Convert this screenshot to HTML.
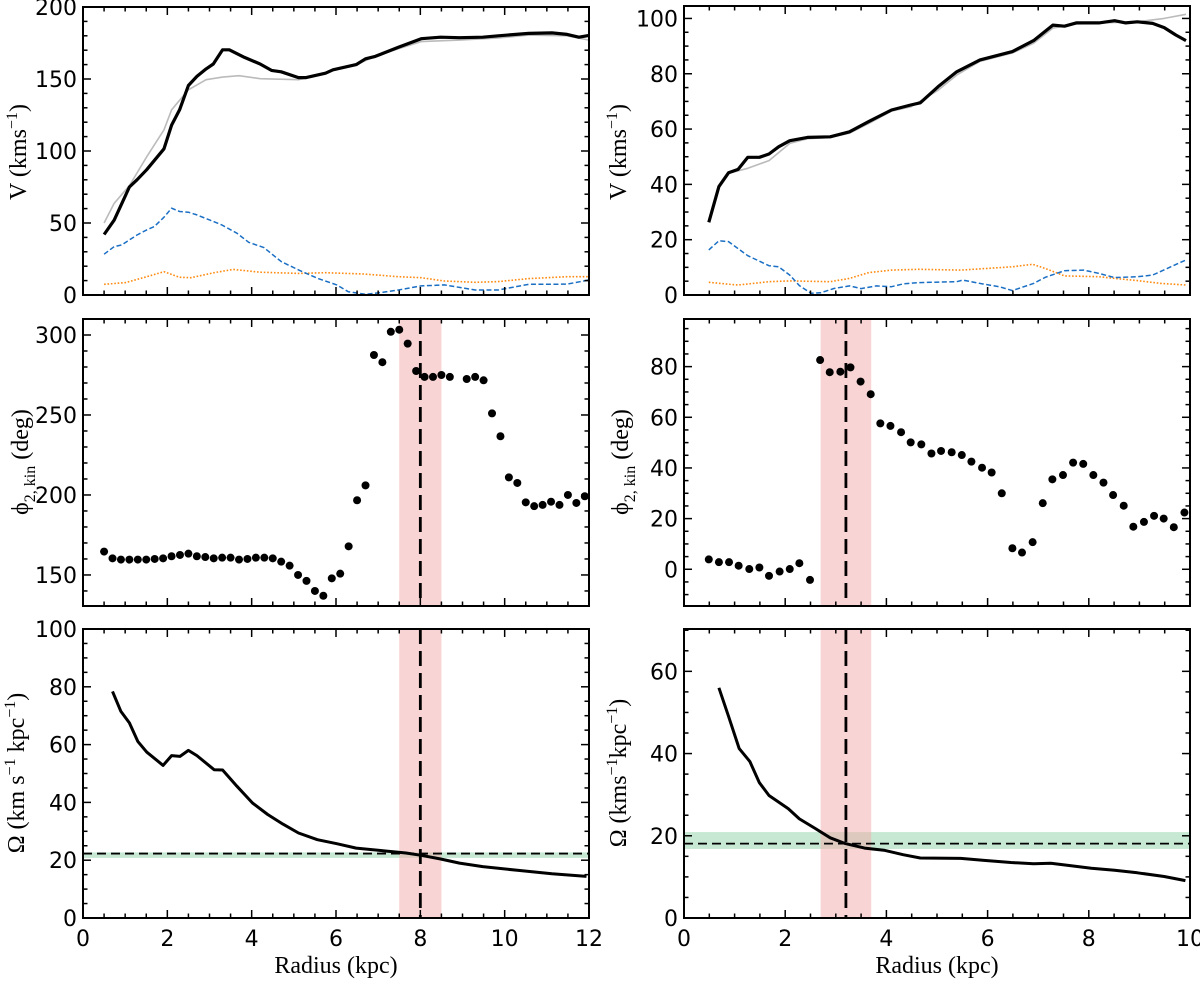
<!DOCTYPE html>
<html><head><meta charset="utf-8">
<style>
html,body{margin:0;padding:0;background:#fff;}
svg{display:block;}
.tk{font-family:"DejaVu Sans","Liberation Sans",sans-serif;font-size:22px;fill:#000;}
.lb{font-family:"Liberation Serif",serif;font-size:24px;fill:#000;}
</style></head>
<body>
<svg id="fig" width="1200" height="984" viewBox="0 0 1200 984" xmlns="http://www.w3.org/2000/svg"></svg>
<script>
// ---- Left galaxy, rotation curves ----
const tlBlackR=[0.50,0.74,1.10,1.28,1.51,1.92,2.10,2.29,2.50,2.70,2.92,3.09,3.31,3.47,3.83,4.20,4.47,4.70,5.11,5.29,5.75,5.93,6.48,6.70,6.93,7.48,8.02,8.48,8.93,9.48,9.85,10.57,11.12,11.48,11.76,12.0];
const tlBlackV=[42,52,75,80,87,101.5,118,128.6,145.5,151.8,157,160.4,170.3,170.3,165,160.4,156,155,151,151,154,156.4,160,164,165.7,172,178,179,178.7,179,180,181.7,182,181,179,180.3];
const tlGrayR=[0.5,0.74,1.10,1.51,1.92,2.10,2.50,2.92,3.31,3.70,4.20,5.11,5.75,5.93,6.48,6.93,7.48,8.02,8.93,9.85,10.57,11.48,12.0];
const tlGrayV=[50,63.7,76,96,114.7,128.6,142.5,149.5,151.3,152.3,150.2,149.5,154,156.4,160,165.7,171,176,177,178.5,180.5,180,177];
const tlBlueR=[0.50,0.74,0.92,1.28,1.51,1.69,1.92,2.10,2.29,2.50,2.70,3.01,3.29,3.65,3.93,4.29,4.70,5.11,5.56,6.02,6.29,6.70,7.11,7.48,8.02,8.57,9.30,9.85,10.57,11.12,11.48,12.0];
const tlBlueV=[28.3,33.6,34.8,41.7,45.2,47.5,54,60.3,58,57.5,55.6,52,48.7,42.9,36.6,32.9,23.2,17.4,11.6,7,2.3,0.5,1.9,3.5,6.3,7,3.5,3.5,7.4,7.4,7.6,10.4];
const tlOrR=[0.5,1.01,1.51,1.92,2.29,2.56,3.11,3.56,4.20,5.11,5.75,6.66,7.48,8.02,8.57,9.30,9.85,10.57,11.48,12.0];
const tlOrV=[7.4,8.6,12.7,16.2,12.3,12,15.5,17.8,15.8,15,15.5,14.6,12.7,12,9.7,8.8,9.3,11.4,12.7,12.7];
// ---- Right galaxy, rotation curves ----
const trBlackR=[0.49,0.69,0.88,1.07,1.26,1.49,1.68,1.87,2.09,2.44,2.89,3.27,3.65,4.10,4.48,4.67,5.02,5.39,5.85,6.49,6.91,7.29,7.52,7.75,8.20,8.51,8.73,8.96,9.26,9.49,9.72,9.92];
const trBlackV=[26.3,39.2,44.2,45.4,49.8,49.8,51,53.6,55.8,57,57.2,59,62.7,66.9,68.7,69.5,75.3,80.7,85,88,92,97.6,97.2,98.4,98.4,99.2,98.4,98.8,98.2,96.7,94,92];
const trGrayR=[0.49,0.69,0.88,1.26,1.68,2.09,2.44,2.89,3.27,3.65,4.10,4.48,5.02,5.39,5.85,6.49,6.91,7.29,7.75,8.20,8.96,9.49,9.92];
const trGrayV=[27,39,44,45.8,48.6,54.8,56.5,57,58.5,62,66.5,68,74,79.5,84.5,87.5,91,96.5,98,98.4,98.8,100,101.5];
const trBlueR=[0.49,0.69,0.88,1.26,1.68,1.87,2.09,2.28,2.51,2.70,2.97,3.27,3.50,3.80,4.10,4.33,4.64,5.39,5.51,5.93,6.23,6.49,6.91,7.14,7.52,7.90,8.20,8.51,8.96,9.26,9.92];
const trBlueV=[16.3,19.6,19.3,14.2,10.6,10.2,7.2,3.4,0.6,0.8,2.4,3.3,2.3,3.3,3,4,4.5,4.8,5.4,3.9,3,1.6,4.2,6.4,8.8,9,7.8,6.3,6.6,7.2,12.7];
const trOrR=[0.49,0.88,1.07,1.68,2.09,2.89,3.27,3.65,4.10,4.64,5.47,6.49,6.89,7.14,7.52,8.20,8.51,8.96,9.42,9.92];
const trOrV=[4.6,3.9,3.6,4.8,5.1,4.8,6,8.1,9,9.3,9,10.2,11.1,9.6,6.9,6.6,6,5.2,4.2,3.6];
// ---- Phase angles ----
const mlR=[0.5,0.7,0.9,1.1,1.3,1.5,1.7,1.9,2.1,2.3,2.5,2.7,2.9,3.1,3.3,3.5,3.7,3.9,4.1,4.3,4.5,4.7,4.9,5.1,5.3,5.5,5.7,5.9,6.1,6.3,6.5,6.7,6.9,7.1,7.3,7.5,7.7,7.9,8.1,8.3,8.5,8.7,9.1,9.3,9.5,9.7,9.9,10.1,10.3,10.5,10.7,10.9,11.1,11.3,11.5,11.7,11.9];
const mlPhi=[164.6,160.4,159.6,159.6,159.6,159.6,160,160.4,161.7,162.5,163.3,161.7,161.2,160.4,160.8,160.8,159.6,160,160.8,160.8,160.4,158.3,155.8,150,146.3,140,137,147.9,150.8,167.9,196.7,206,287.5,283,302,303.3,294.6,277.5,273.8,273.8,275,273.8,272.5,273.8,271.7,251,236.7,211,207.5,195.4,193,193.8,195.8,193.8,200,195,199.2];
const mrR=[0.49,0.69,0.89,1.08,1.29,1.49,1.68,1.89,2.09,2.28,2.49,2.69,2.88,3.09,3.29,3.49,3.69,3.88,4.08,4.29,4.48,4.69,4.89,5.08,5.29,5.49,5.68,5.89,6.08,6.28,6.49,6.68,6.89,7.09,7.28,7.49,7.69,7.89,8.09,8.29,8.48,8.69,8.88,9.09,9.29,9.48,9.68,9.89];
const mrPhi=[3.9,2.8,2.8,1.4,0.1,0.7,-2.6,-0.9,0.1,2.4,-4.2,82.6,77.8,78,79.7,74.1,69.1,57.6,56.6,54.1,50.1,49.3,45.7,46.7,46.2,45.1,42.5,40.1,38.2,30,8.3,6.6,10.7,26.1,35.5,37.2,42.1,41.6,37.2,34.2,29.3,25.1,16.8,18.7,21.1,20,16.6,22.4];
// ---- Pattern speed ----
const blR=[0.70,0.90,1.10,1.30,1.51,1.90,2.10,2.30,2.50,2.70,3.11,3.31,3.65,4.02,4.38,4.74,5.11,5.56,6.02,6.48,7.11,7.66,8.02,8.48,8.93,9.48,10.30,11.12,11.94];
const blOm=[78.4,71.5,67.5,61.1,57.4,52.8,56.2,55.9,58,56.2,51.3,51.2,45.6,39.8,35.8,32.5,29.4,27.1,25.7,24.2,23.3,22.5,21.7,20.4,19,17.8,16.5,15.3,14.4];
const brR=[0.69,0.88,1.09,1.30,1.49,1.68,2.06,2.28,2.59,2.89,3.19,3.57,3.95,4.33,4.67,5.47,5.93,6.46,6.91,7.25,7.59,8.05,8.51,8.96,9.49,9.91];
const brOm=[56,49.1,41.2,38.1,32.9,29.8,26.6,24.1,21.8,19.5,18.1,17,16.5,15.4,14.6,14.5,14,13.5,13.2,13.3,12.8,12.1,11.6,11,10.1,9.1];
const leftRcr=[7.5,8.0,8.5];
const rightRcr=[2.7,3.2,3.7];
const leftOmp=[20.8,22.3,22.7];
const rightOmp=[16.8,18.1,20.9];

const NS='http://www.w3.org/2000/svg';
const svg=document.getElementById('fig');
function el(tag,attrs,parent){const e=document.createElementNS(NS,tag);for(const k in attrs)e.setAttribute(k,attrs[k]);(parent||svg).appendChild(e);return e;}

function panel(name,px0,px1,py0,py1,xmin,xmax,ymin,ymax,xmaj,xmin_,ymaj,ymin_,showX){
  const g=el('g',{});
  
  
  const sx=v=>px0+(v-xmin)/(xmax-xmin)*(px1-px0);
  const sy=v=>py1-(v-ymin)/(ymax-ymin)*(py1-py0);
  return {g,sx,sy,px0,px1,py0,py1,xmin,xmax,ymin,ymax,xmaj,xmin_,ymaj,ymin_,showX};
}
function axes(p){
  const f=el('rect',{x:p.px0,y:p.py0,width:p.px1-p.px0,height:p.py1-p.py0,fill:'none',stroke:'#000','stroke-width':2},p.g);
  
  
  const eps=1e-6;
  for(let v=Math.ceil(p.xmin/p.xmin_)*p.xmin_;v<=p.xmax+eps;v+=p.xmin_){
    const maj=Math.abs(v/p.xmaj-Math.round(v/p.xmaj))<1e-6;const L=maj?8:4.5;const x=p.sx(v);
    el('line',{x1:x,x2:x,y1:p.py1,y2:p.py1-L,stroke:'#000','stroke-width':1.5},p.g);
    el('line',{x1:x,x2:x,y1:p.py0,y2:p.py0+L,stroke:'#000','stroke-width':1.5},p.g);
    if(maj&&p.showX){const t=el('text',{x:x,y:p.py1+28,'text-anchor':'middle',class:'tk'},p.g);t.textContent=Math.round(v);
      
      }
  }
  for(let v=Math.ceil((p.ymin-eps)/p.ymin_)*p.ymin_;v<=p.ymax+eps;v+=p.ymin_){
    const maj=Math.abs(v/p.ymaj-Math.round(v/p.ymaj))<1e-6;const L=maj?8:4.5;const y=p.sy(v);
    el('line',{x1:p.px0,x2:p.px0+L,y1:y,y2:y,stroke:'#000','stroke-width':1.5},p.g);
    el('line',{x1:p.px1,x2:p.px1-L,y1:y,y2:y,stroke:'#000','stroke-width':1.5},p.g);
    if(maj){const t=el('text',{x:p.px0-6,y:y+8,'text-anchor':'end',class:'tk'},p.g);t.textContent=Math.round(v);
      
      }
  }
}
function line(p,R,V,attrs,name){
  const d=R.map((r,i)=>(i?'L':'M')+p.sx(r).toFixed(1)+' '+p.sy(V[i]).toFixed(1)).join(' ');
  const e=el('path',Object.assign({d:d,fill:'none','stroke-linejoin':'round'},attrs),p.g);
  
  
}
function dots(p,R,V,name){
  R.forEach((r,i)=>{const c=el('circle',{cx:p.sx(r),cy:p.sy(V[i]),r:4,fill:'#000'},p.g);
    
    });
}
function vband(p,b){
  const r=el('rect',{x:p.sx(b[0]),y:p.py0,width:p.sx(b[2])-p.sx(b[0]),height:p.py1-p.py0,fill:'#f4aaaa','fill-opacity':0.5},p.g);
  
  
  const l=el('line',{x1:p.sx(b[1]),x2:p.sx(b[1]),y1:p.py0,y2:p.py1,stroke:'#000','stroke-width':2.8,'stroke-dasharray':'15 7'},p.g);
  
  
}
function hband(p,b){
  const r=el('rect',{x:p.px0,y:p.sy(b[2]),width:p.px1-p.px0,height:p.sy(b[0])-p.sy(b[2]),fill:'#8fd3a8','fill-opacity':0.5},p.g);
  
  
}
function hline(p,b){
  const l=el('line',{x1:p.px0,x2:p.px1,y1:p.sy(b[1]),y2:p.sy(b[1]),stroke:'#000','stroke-width':1.8,'stroke-dasharray':'9 5'},p.g);
  
  
}
function ylabel(x,y,html,name){
  const t=el('text',{x:0,y:0,transform:`translate(${x},${y}) rotate(-90)`,'text-anchor':'middle',class:'lb'});
  t.innerHTML=html;
  
  
}
const blackS={stroke:'#000','stroke-width':3.2};
const grayS={stroke:'#bbb','stroke-width':1.6};
const blueS={stroke:'#1a6fc4','stroke-width':1.5,'stroke-dasharray':'5 2.5'};
const orS={stroke:'#ff8a10','stroke-width':1.6,'stroke-dasharray':'1.6 1.8'};

const LX0=83,LX1=589,RX0=684,RX1=1190;
let p=panel('rotation-curve-left',LX0,LX1,7,295,0,12,0,200,2,0.5,50,10,false);
line(p,tlGrayR,tlGrayV,grayS,'observed-curve-gray');
line(p,tlOrR,tlOrV,orS,'dispersion-orange');
line(p,tlBlueR,tlBlueV,blueS,'radial-velocity-blue');
line(p,tlBlackR,tlBlackV,blackS,'rotation-curve-black');
axes(p);
p=panel('rotation-curve-right',RX0,RX1,6,295,0,10,0,104.5,2,0.5,20,5,false);
line(p,trGrayR,trGrayV,grayS,'observed-curve-gray');
line(p,trOrR,trOrV,orS,'dispersion-orange');
line(p,trBlueR,trBlueV,blueS,'radial-velocity-blue');
line(p,trBlackR,trBlackV,blackS,'rotation-curve-black');
axes(p);
p=panel('phase-angle-left',LX0,LX1,319,606,0,12,130.6,310,2,0.5,50,10,false);
vband(p,leftRcr);dots(p,mlR,mlPhi,'phase-point');axes(p);
p=panel('phase-angle-right',RX0,RX1,319,606,0,10,-14.5,98.8,2,0.5,20,5,false);
vband(p,rightRcr);dots(p,mrR,mrPhi,'phase-point');axes(p);
p=panel('angular-speed-left',LX0,LX1,629,918,0,12,0,100,2,0.5,20,5,true);
hband(p,leftOmp);vband(p,leftRcr);hline(p,leftOmp);
line(p,blR,blOm,{stroke:'#000','stroke-width':3},'omega-curve');
axes(p);
p=panel('angular-speed-right',RX0,RX1,629,918,0,10,0,70.3,2,0.5,20,5,true);
hband(p,rightOmp);vband(p,rightRcr);hline(p,rightOmp);
line(p,brR,brOm,{stroke:'#000','stroke-width':3},'omega-curve');
axes(p);

const SUP='<tspan dy="-9" font-size="16">−1</tspan>';
ylabel(26,152,'V (kms'+SUP+'<tspan dy="9">)</tspan>','y-axis-title-velocity-left');
ylabel(626,152,'V (kms'+SUP+'<tspan dy="9">)</tspan>','y-axis-title-velocity-right');
ylabel(28,462,'ϕ<tspan dy="7" font-size="16">2, kin</tspan><tspan dy="-7"> (deg)</tspan>','y-axis-title-phase-left');
ylabel(628,462,'ϕ<tspan dy="7" font-size="16">2, kin</tspan><tspan dy="-7"> (deg)</tspan>','y-axis-title-phase-right');
ylabel(24,773,'Ω (km s'+SUP+'<tspan dy="9"> kpc</tspan>'+SUP+'<tspan dy="9">)</tspan>','y-axis-title-omega-left');
ylabel(626,773,'Ω (kms'+SUP+'<tspan dy="9">kpc</tspan>'+SUP+'<tspan dy="9">)</tspan>','y-axis-title-omega-right');
let t=el('text',{x:336,y:973,'text-anchor':'middle',class:'lb'});t.textContent='Radius (kpc)';


t=el('text',{x:937,y:973,'text-anchor':'middle',class:'lb'});t.textContent='Radius (kpc)';


</script>
</body></html>
